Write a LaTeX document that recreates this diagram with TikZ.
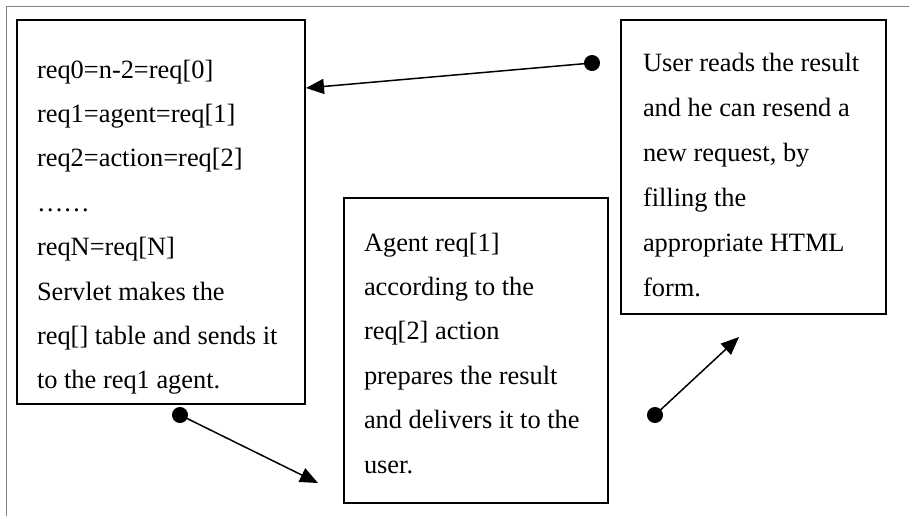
\documentclass[tikz,border=0pt]{standalone}
\usepackage{fontspec}
\setmainfont{Liberation Serif}
\usetikzlibrary{arrows.meta}

\begin{document}
\begin{tikzpicture}[x=0.5pt,y=-0.5pt,
  box/.style={draw, line width=1pt, anchor=north west, align=flush left,
    inner xsep=10pt, inner ysep=0pt,
    font=\fontsize{13.2}{22.2}\selectfont},
  link/.style={draw, line width=0.75pt,
    {Circle[length=8pt]}-{Triangle[length=9pt,width=7.5pt]},
    shorten <=-4pt}]
\useasboundingbox (0,0) rectangle (909,516);
\draw[gray, line width=0.5pt] (909,6) -- (6,6) -- (6,516);

\node[box, text width=124pt, text height=29pt, text depth=163pt] (servlet) at (16,19)
  {req0=n-2=req[0]\\
   req1=agent=req[1]\\
   req2=action=req[2]\\
   ……\\
   reqN=req[N]\\
   Servlet makes the\\
   req[] table and sends it\\
   to the req1 agent.};
\node[box, text width=112pt, text height=26.5pt, text depth=126pt] (agent) at (343,197)
  {Agent req[1]\\
   according to the\\
   req[2] action\\
   prepares the result\\
   and delivers it to the\\
   user.};
\node[box, inner xsep=11pt, text width=110.5pt, text height=25.5pt, text depth=121.5pt,
  font=\fontsize{13.2}{22.5}\selectfont] (user) at (620,19)
  {User reads the result\\
   and he can resend a\\
   new request, by\\
   filling the\\
   appropriate HTML\\
   form.};

% loose arrows between the boxes
\coordinate (back) at (592,63);
\coordinate (backtip) at (306,88);
\coordinate (send) at (180,415);
\coordinate (sendtip) at (318,483);
\coordinate (deliver) at (655,415);
\coordinate (delivertip) at (739,337);

\path[link] (back) -- (backtip);
\path[link] (send) -- (sendtip);
\path[link] (deliver) -- (delivertip);
\end{tikzpicture}
\end{document}
